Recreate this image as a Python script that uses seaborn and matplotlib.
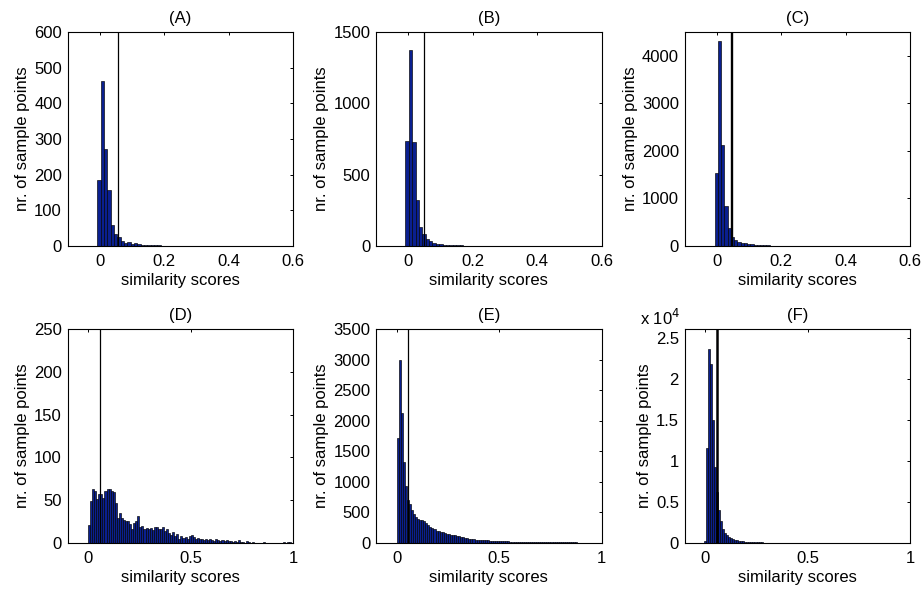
import numpy as np
import pandas as pd
import matplotlib
matplotlib.use("Agg")
import matplotlib.pyplot as plt
import seaborn as sns

# ---------------- data ----------------
titles = ["(A)", "(B)", "(C)", "(D)", "(E)", "(F)"]

A_counts = [184, 462, 273, 156, 58, 33, 25, 14, 7, 10, 5, 7, 5, 3, 2, 2, 1, 1, 1]
B_counts = [734, 1376, 727, 320, 133, 84, 51, 33, 23, 16, 12, 9, 7, 5, 4, 3, 3, 2, 2, 1, 1]
C_counts = [1542, 4310, 2127, 838, 380, 183, 120, 85, 63, 50, 35, 28, 20, 15, 12, 10, 8, 6, 5, 4, 3, 2, 2, 1, 1]
D_counts = [21, 49, 63, 61, 51, 57, 57, 52, 61, 63,
            63, 61, 60, 47, 29, 35, 29, 27, 26, 25,
            22, 16, 23, 25, 31, 19, 20, 16, 17, 16,
            17, 15, 19, 18, 16, 16, 18, 14, 16, 11,
            9, 13, 8, 10, 5, 8, 6, 7, 5, 8,
            9, 7, 5, 6, 5, 4, 3, 4, 3, 4,
            3, 2, 4, 3, 2, 3, 2, 3, 2, 2,
            1, 2, 1, 3, 1, 1, 0, 2, 1, 0,
            1, 0, 0, 0, 0, 1, 0, 0, 0, 0,
            0, 0, 0, 0, 0, 1, 0, 1, 1, 0]
E_counts = [1710, 3000, 2130, 1330, 930, 700, 630, 540, 470, 430,
            385, 375, 370, 350, 320, 290, 265, 245, 225, 200,
            195, 185, 170, 160, 150, 145, 135, 128, 120, 112,
            104, 96, 88, 80, 74, 68, 62, 58, 54, 50,
            47, 44, 42, 40, 38, 36, 34, 32, 31, 30,
            28, 26, 25, 24, 22, 21, 20, 19, 18, 17,
            16, 15, 15, 14, 13, 13, 12, 12, 11, 11,
            10, 10, 9, 9, 9, 8, 8, 8, 7, 7,
            7, 6, 6, 6, 5, 5, 5, 5, 4, 4,
            4, 4, 3, 3, 3, 3, 2, 2, 2, 1]
F_counts = [200, 11500, 23600, 21800, 15000, 9200, 6200, 4000, 2650, 1700,
            1250, 900, 680, 540, 420, 340, 290, 250, 200, 165,
            135, 110, 95, 80, 70, 60, 52, 46, 40, 35,
            31, 27, 24, 21, 19, 17, 15, 13, 12, 11,
            10, 9, 8, 8, 7, 7, 6, 6, 6, 5,
            5, 5, 4, 4, 4, 4, 3, 3, 3, 3,
            3, 2, 2, 2, 2, 2, 2, 2, 1, 1,
            1, 1, 1, 1, 1, 1, 1, 1, 1, 1,
            1, 1, 1, 1, 1, 1, 1, 1, 1, 1]

thresholds = [0.057, 0.048, 0.047, 0.056, 0.058, 0.060]
x_tick_vals_top = [0, 0.2, 0.4, 0.6]
x_tick_labels_top = ["0", "0.2", "0.4", "0.6"]
x_tick_vals_bot = [0, 0.5, 1]
x_tick_labels_bot = ["0", "0.5", "1"]
y_ticks = [
    [0, 100, 200, 300, 400, 500, 600],
    [0, 500, 1000, 1500],
    [0, 1000, 2000, 3000, 4000],
    [0, 50, 100, 150, 200, 250],
    [0, 500, 1000, 1500, 2000, 2500, 3000, 3500],
    [0, 5000, 10000, 15000, 20000, 25000],
]
F_ytick_labels = ["0", "0.5", "1", "1.5", "2", "2.5"]

all_counts = [A_counts, B_counts, C_counts, D_counts, E_counts, F_counts]

# ---------------- styling / layout ----------------
bin_start = [-0.007, -0.009, -0.006, 0.0, 0.0, -0.004]
bin_width = [0.0103, 0.0105, 0.0100, 0.0100, 0.0100, 0.0098]
y_top = [600, 1500, 4500, 250, 3500, 26000]
line_w = [0.9, 0.9, 1.7, 0.9, 0.9, 1.8]

sns.set_style("white")
plt.rcParams["font.family"] = ["Liberation Sans", "DejaVu Sans"]
plt.rcParams["font.size"] = 12
plt.rcParams["text.color"] = "black"
plt.rcParams["axes.labelcolor"] = "black"
plt.rcParams["xtick.color"] = "black"
plt.rcParams["ytick.color"] = "black"

fig = plt.figure(figsize=(9.24, 5.92), dpi=100)
W, H = 924.0, 592.0
col_left = [67.5, 376.0, 684.5]
row_top = [32.3, 329.3]
ax_w, ax_h = 225.8, 213.5

bar_color = "#0a1f8f"
FS = 12

for i, counts in enumerate(all_counts):
    r, c = divmod(i, 3)
    ax = fig.add_axes([col_left[c] / W, (H - row_top[r] - ax_h) / H, ax_w / W, ax_h / H])
    n = len(counts)
    edges = [float(e) for e in (bin_start[i] + bin_width[i] * np.arange(n + 1))]
    centers = [(edges[k] + edges[k + 1]) / 2 for k in range(n)]
    df = pd.DataFrame({"score": centers, "count": [float(v) for v in counts]})
    sns.histplot(data=df, x="score", weights="count", bins=edges, ax=ax,
                 color=bar_color, edgecolor="black", linewidth=0.45, alpha=1.0)
    ax.axvline(thresholds[i], color="black", linewidth=line_w[i])

    if r == 0:
        ax.set_xlim(-0.1, 0.6)
        ax.set_xticks(x_tick_vals_top)
        ax.set_xticklabels(x_tick_labels_top)
    else:
        ax.set_xlim(-0.1, 1.0)
        ax.set_xticks(x_tick_vals_bot)
        ax.set_xticklabels(x_tick_labels_bot)
    ax.set_ylim(0, y_top[i])
    ax.set_yticks(y_ticks[i])
    if i == 5:
        ax.set_yticklabels(F_ytick_labels)
        ax.text(-0.02, 1.005, r"x 10$^{4}$", transform=ax.transAxes,
                ha="right", va="bottom", fontsize=FS)
    ax.set_title(titles[i], fontsize=FS, pad=7)
    ax.set_xlabel("similarity scores", fontsize=FS, labelpad=3)
    ax.set_ylabel("nr. of sample points", fontsize=FS, labelpad=3)
    ax.tick_params(direction="in", top=True, right=True, length=2.5, width=0.7,
                   labelsize=FS, color="black", labelcolor="black")
    ax.tick_params(axis="x", pad=6)
    ax.tick_params(axis="y", pad=4)
    for s in ax.spines.values():
        s.set_color("black")
        s.set_linewidth(0.8)
    ax.set_facecolor("white")

fig.savefig("out.png", dpi=100, facecolor="white")
